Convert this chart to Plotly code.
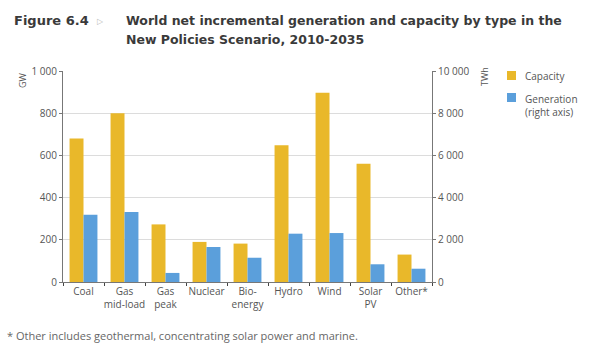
import plotly.graph_objects as go

categories = ["Coal", "Gas<br>mid-load", "Gas<br>peak", "Nuclear", "Bio-<br>energy",
              "Hydro", "Wind", "Solar<br>PV", "Other*"]
capacity_gw = [680, 800, 273, 190, 182, 648, 897, 561, 130]
generation_twh = [3190, 3320, 430, 1660, 1150, 2290, 2320, 840, 630]

left_ticks = [0, 200, 400, 600, 800, 1000]
left_ticktext = ["0", "200", "400", "600", "800", "1 000"]
right_ticks = [0, 2000, 4000, 6000, 8000, 10000]
right_ticktext = ["0", "2 000", "4 000", "6 000", "8 000", "10 000"]

GOLD = "#E9B82A"
BLUE = "#5B9FDB"
FONT = "Open Sans"
TXT = "#555555"
TFONT = "DejaVu Sans"

fig = go.Figure()
fig.add_trace(go.Bar(x=categories, y=capacity_gw, name="Capacity",
                     marker=dict(color=GOLD, line=dict(width=0)),
                     width=0.34, offset=-0.34, yaxis="y"))
fig.add_trace(go.Bar(x=categories, y=generation_twh, name="Generation<br>(right axis)",
                     marker=dict(color=BLUE, line=dict(width=0)),
                     width=0.34, offset=0.0, yaxis="y2"))

fig.update_layout(
    width=597, height=344,
    margin=dict(l=63, r=165, t=71, b=62),
    paper_bgcolor="white", plot_bgcolor="white",
    font=dict(family=FONT, size=10, color=TXT),
    showlegend=False,
    xaxis=dict(type="category", showline=True, linecolor="#777777", linewidth=1,
               ticks="outside", tickson="boundaries", ticklen=3, tickcolor="#444444",
               tickangle=0, tickfont=dict(size=10, color=TXT), showgrid=False),
    yaxis=dict(range=[0, 1000], tickvals=left_ticks, ticktext=left_ticktext,
               showline=True, linecolor="#777777", linewidth=1,
               ticks="outside", ticklen=3, tickcolor="#777777",
               gridcolor="#DCDCDC", gridwidth=1, zeroline=False,
               tickfont=dict(size=10, color=TXT)),
    yaxis2=dict(range=[0, 10000], tickvals=right_ticks, ticktext=right_ticktext,
                overlaying="y", side="right", showline=True, linecolor="#777777",
                linewidth=1, ticks="outside", ticklen=3, tickcolor="#777777",
                showgrid=False, zeroline=False,
                tickfont=dict(size=10, color=TXT)),
)

# Title
fig.add_annotation(text="<b>Figure 6.4</b>", x=12, y=344 - 20, showarrow=False,
                   xanchor="left", yanchor="middle",
                   font=dict(family=TFONT, size=13, color="#3A3A3A"))
fig.add_annotation(text="▷", x=95, y=344 - 20, showarrow=False, xanchor="left", yanchor="middle",
                   font=dict(size=8, color="#BBBBBB"))
fig.add_annotation(text="<b>World net incremental generation and capacity by type in the</b>",
                   x=124, y=344 - 20, showarrow=False, xanchor="left", yanchor="middle",
                   font=dict(family=TFONT, size=12.5, color="#3A3A3A"))
fig.add_annotation(text="<b>New Policies Scenario, 2010-2035</b>",
                   x=124, y=344 - 40, showarrow=False, xanchor="left", yanchor="middle",
                   font=dict(family=TFONT, size=12.5, color="#3A3A3A"))

# Axis unit labels
fig.add_annotation(text="GW", x=22, y=344 - 80, showarrow=False, textangle=-90,
                   xanchor="center", yanchor="middle", font=dict(size=9, color=TXT))
fig.add_annotation(text="TWh", x=485, y=344 - 77, showarrow=False, textangle=-90,
                   xanchor="center", yanchor="middle", font=dict(size=9, color=TXT))

# Legend
fig.add_shape(type="rect", x0=507, x1=516, y0=344 - 71, y1=344 - 80,
              fillcolor=GOLD, line=dict(width=0), xref="paper", yref="paper")
fig.add_shape(type="rect", x0=507, x1=516, y0=344 - 93, y1=344 - 102,
              fillcolor=BLUE, line=dict(width=0), xref="paper", yref="paper")
fig.add_annotation(text="Capacity", x=523, y=344 - 76, showarrow=False, xanchor="left",
                   yanchor="middle", font=dict(size=10, color=TXT))
fig.add_annotation(text="Generation<br>(right axis)", x=523, y=344 - 90, showarrow=False,
                   xanchor="left", yanchor="top", align="left", font=dict(size=10, color=TXT))

# Footnote
fig.add_annotation(text="* Other includes geothermal, concentrating solar power and marine.",
                   x=5, y=344 - 335, showarrow=False, xanchor="left", yanchor="middle",
                   font=dict(size=11, color="#666666"))

# convert pixel-based annotation coords to paper coords
pw = 597 - 63 - 165
ph = 344 - 71 - 62
for a in fig.layout.annotations:
    a.xref = "paper"; a.yref = "paper"
    a.x = (a.x - 63) / pw
    a.y = (a.y - 62) / ph
for s in fig.layout.shapes:
    s.x0 = (s.x0 - 63) / pw; s.x1 = (s.x1 - 63) / pw
    s.y0 = (s.y0 - 62) / ph; s.y1 = (s.y1 - 62) / ph

fig.write_html("out.html")
